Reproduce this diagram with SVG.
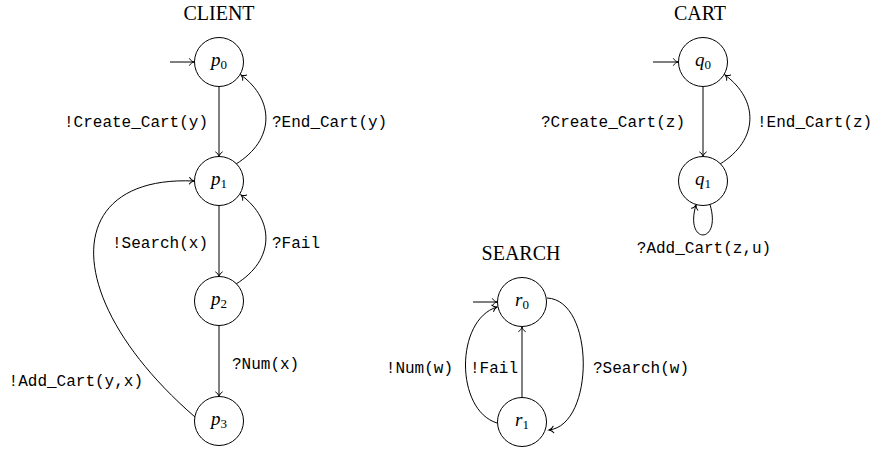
<svg xmlns="http://www.w3.org/2000/svg" width="873" height="450" viewBox="0 0 873 450">
<style>
.st{fill:#fff;stroke:#000;stroke-width:1}
.e{fill:none;stroke:#000;stroke-width:1;marker-end:url(#ah)}
.lb{font-family:"Liberation Mono","DejaVu Sans Mono",monospace;font-size:16px;fill:#000}
.tt{font-family:"Liberation Serif","DejaVu Serif",serif;font-size:20px;fill:#000;text-anchor:middle}
.nl{font-family:"Liberation Serif","DejaVu Serif",serif;font-size:19px;fill:#000;text-anchor:middle}
.nl .v{font-style:italic}
.nl .s{font-size:13px}
</style>
<defs>
<marker id="ah" markerUnits="userSpaceOnUse" viewBox="-6 -5 7 10" markerWidth="7" markerHeight="10" refX="0" refY="0" orient="auto" overflow="visible">
<path d="M-4.5,-3.3 C-3.5,-1.5 -1.5,-0.4 0,0 C-1.5,0.4 -3.5,1.5 -4.5,3.3" fill="none" stroke="#000" stroke-width="1" stroke-linecap="round"/>
</marker>
</defs>

<g id="titles">
<text class="tt" x="219" y="20">CLIENT</text>
<text class="tt" x="700" y="20">CART</text>
<text class="tt" x="521" y="260">SEARCH</text>
</g>

<g id="connectors">
<!-- CLIENT -->
<path class="e" d="M170,62 H194"/>
<path class="e" d="M219,86.5 V156.5"/>
<path class="e" d="M236,164 C275,140 275,100 241,75"/>
<path class="e" d="M219,205.5 V276.5"/>
<path class="e" d="M236,284 C275,260 275,220 241,195"/>
<path class="e" d="M219,325.5 V396.5"/>
<path class="e" d="M195,417 C60,300 60,175 194,181"/>
<!-- CART -->
<path class="e" d="M653,62 H678"/>
<path class="e" d="M703,86.5 V156.5"/>
<path class="e" d="M720,164 C759,140 759,100 725,75"/>
<path class="e" d="M710,204.5 C722,245 684,245 696,205"/>
<!-- SEARCH -->
<path class="e" d="M473,302 H497"/>
<path class="e" d="M522,397.5 V327"/>
<path class="e" d="M497,423 C455,410 455,320 497,307"/>
<path class="e" d="M547,298 C595,300 595,425 549,430"/>
</g>

<g id="edge-labels">
<text class="lb" x="208" y="126.5" text-anchor="end">!Create_Cart(y)</text>
<text class="lb" x="272" y="126.5">?End_Cart(y)</text>
<text class="lb" x="208" y="248" text-anchor="end">!Search(x)</text>
<text class="lb" x="272" y="248">?Fail</text>
<text class="lb" x="232" y="369">?Num(x)</text>
<text class="lb" x="143" y="386" text-anchor="end">!Add_Cart(y,x)</text>
<text class="lb" x="685" y="126.5" text-anchor="end">?Create_Cart(z)</text>
<text class="lb" x="757" y="126.5">!End_Cart(z)</text>
<text class="lb" x="704" y="253" text-anchor="middle">?Add_Cart(z,u)</text>
<text class="lb" x="453" y="373" text-anchor="end">!Num(w)</text>
<text class="lb" x="470" y="373">!Fail</text>
<text class="lb" x="593" y="373">?Search(w)</text>
</g>

<g id="p0"><circle class="st" cx="219" cy="62" r="24.5"/><text class="nl" x="219" y="66"><tspan class="v">p</tspan><tspan class="s" dy="3">0</tspan></text></g>
<g id="p1"><circle class="st" cx="219" cy="181" r="24.5"/><text class="nl" x="219" y="185"><tspan class="v">p</tspan><tspan class="s" dy="3">1</tspan></text></g>
<g id="p2"><circle class="st" cx="219" cy="301" r="24.5"/><text class="nl" x="219" y="305"><tspan class="v">p</tspan><tspan class="s" dy="3">2</tspan></text></g>
<g id="p3"><circle class="st" cx="219" cy="421" r="24.5"/><text class="nl" x="219" y="425"><tspan class="v">p</tspan><tspan class="s" dy="3">3</tspan></text></g>
<g id="q0"><circle class="st" cx="703" cy="62" r="24.5"/><text class="nl" x="703" y="66"><tspan class="v">q</tspan><tspan class="s" dy="3">0</tspan></text></g>
<g id="q1"><circle class="st" cx="703" cy="181" r="24.5"/><text class="nl" x="703" y="185"><tspan class="v">q</tspan><tspan class="s" dy="3">1</tspan></text></g>
<g id="r0"><circle class="st" cx="522" cy="302" r="24.5"/><text class="nl" x="522" y="306"><tspan class="v">r</tspan><tspan class="s" dy="3">0</tspan></text></g>
<g id="r1"><circle class="st" cx="522" cy="422" r="24.5"/><text class="nl" x="522" y="426"><tspan class="v">r</tspan><tspan class="s" dy="3">1</tspan></text></g>
</svg>
